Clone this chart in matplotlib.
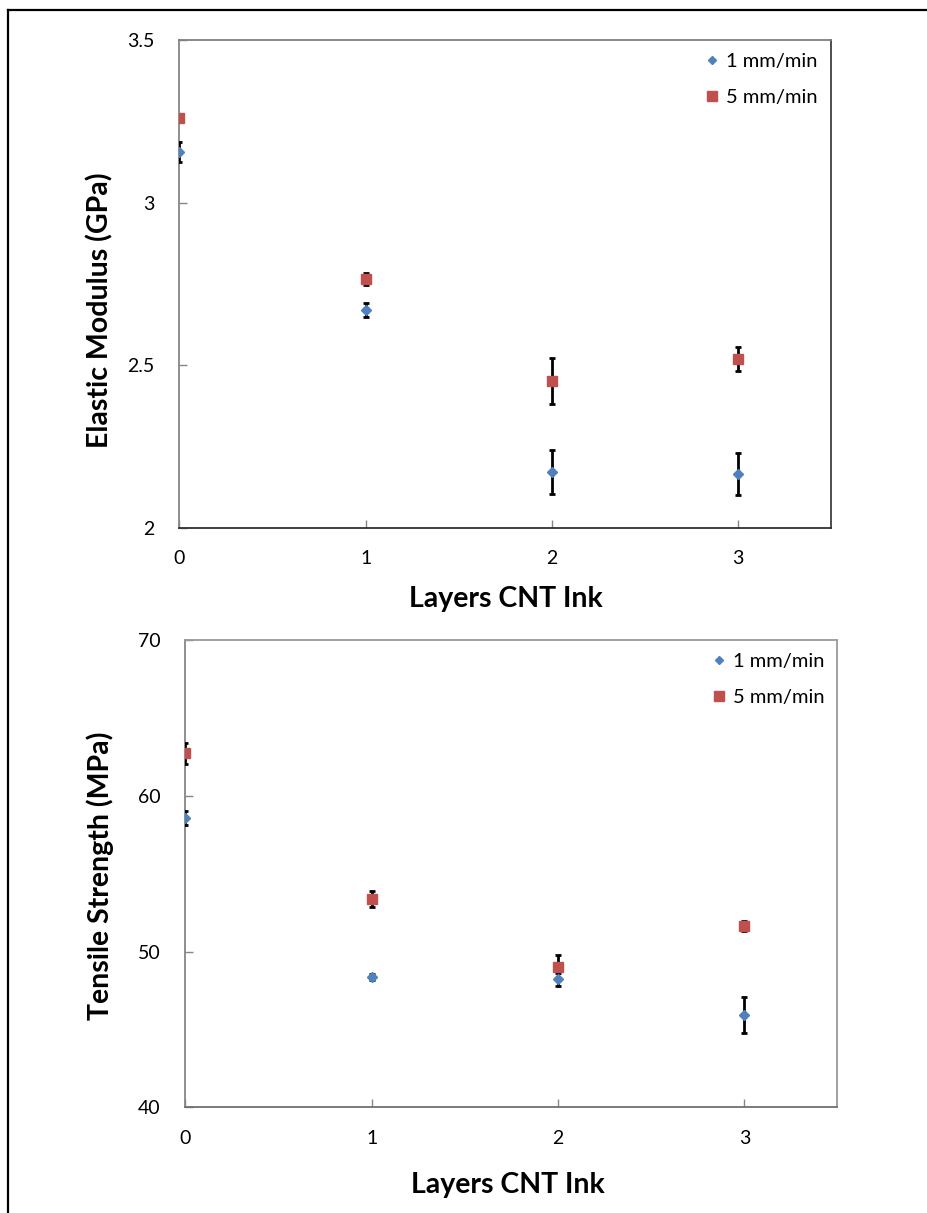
import matplotlib
matplotlib.use("Agg")
import matplotlib.pyplot as plt
from matplotlib.lines import Line2D

plt.rcParams['font.family'] = ['Lato', 'DejaVu Sans']

layers = [0, 1, 2, 3]
series_names = ['1 mm/min', '5 mm/min']

# Elastic modulus (GPa)
modulus_1 = [3.156, 2.670, 2.172, 2.166]
modulus_1_err = [0.031, 0.022, 0.067, 0.064]
modulus_5 = [3.260, 2.765, 2.452, 2.519]
modulus_5_err = [0.008, 0.019, 0.071, 0.037]

# Tensile strength (MPa)
strength_1 = [58.55, 48.38, 48.22, 45.94]
strength_1_err = [0.45, 0.20, 0.41, 1.16]
strength_5 = [62.72, 53.39, 48.99, 51.64]
strength_5_err = [0.69, 0.51, 0.79, 0.35]

BLUE = '#4F81BD'
RED = '#C0504D'

W, H = 928, 1213
fig = plt.figure(figsize=(W / 100, H / 100), dpi=100)


def px_axes(left, top, right, bottom):
    return fig.add_axes([left / W, 1 - bottom / H, (right - left) / W, (bottom - top) / H])


def draw_panel(ax, y1, e1, y5, e5, ylim, yticks, yfmt, spine_cols):
    ax.errorbar(layers, y1, yerr=e1, fmt='D', color=BLUE, ms=5.5, mec=BLUE,
                ecolor='black', elinewidth=2, capsize=2.5, capthick=2,
                label=series_names[0], zorder=3)
    ax.errorbar(layers, y5, yerr=e5, fmt='s', color=RED, ms=7, mec=RED,
                ecolor='black', elinewidth=2, capsize=2.5, capthick=2,
                label=series_names[1], zorder=3)
    ax.set_xlim(0, 3.5)
    ax.set_ylim(*ylim)
    ax.set_xticks(layers)
    ax.set_yticks(yticks)
    ax.set_yticklabels([yfmt(v) for v in yticks])
    ax.tick_params(direction='in', length=6, width=1, color='#868686',
                   labelsize=14, labelcolor='black')
    ax.tick_params(axis='x', pad=16)
    ax.tick_params(axis='y', pad=18)
    for side, col in spine_cols.items():
        ax.spines[side].set_color(col)
        ax.spines[side].set_linewidth(1.3)
        ax.spines[side].set_clip_on(False)
    handles = [
        Line2D([], [], marker='D', ls='none', color=BLUE, ms=4.5),
        Line2D([], [], marker='s', ls='none', color=RED, ms=7),
    ]
    leg = ax.legend(handles, series_names, loc='upper right', frameon=False,
                    fontsize=14.5, handletextpad=0.2, labelspacing=0.95,
                    handlelength=1.0, borderaxespad=0.25,
                    bbox_to_anchor=(1.0, 1.0))
    return leg


ax1 = px_axes(179.5, 40, 831, 528)
draw_panel(ax1, modulus_1, modulus_1_err, modulus_5, modulus_5_err,
           (2, 3.5), [2, 2.5, 3, 3.5], lambda v: f'{v:g}',
           {'left': '#868686', 'bottom': '#303030', 'top': '#808080', 'right': '#404040'})

ax2 = px_axes(185.3, 640, 837.5, 1107.3)
draw_panel(ax2, strength_1, strength_1_err, strength_5, strength_5_err,
           (40, 70), [40, 50, 60, 70], lambda v: f'{v:g}',
           {'left': '#868686', 'bottom': '#707070', 'top': '#9a9a9a', 'right': '#9a9a9a'})

# axis titles
lab = dict(fontsize=20.5, fontweight='bold', color='black')
fig.text(506 / W, 1 - 599 / H, 'Layers CNT Ink', ha='center', va='center', **lab)
fig.text(508 / W, 1 - 1185 / H, 'Layers CNT Ink', ha='center', va='center', **lab)
fig.text(100 / W, 1 - 310 / H, 'Elastic Modulus (GPa)', ha='center', va='center',
         rotation=90, **lab)
fig.text(100 / W, 1 - 876 / H, 'Tensile Strength (MPa)', ha='center', va='center',
         rotation=90, **lab)

# outer border
fig.add_artist(Line2D([8 / W, 8 / W], [0, 1 - 10 / H], color='black', lw=1.6,
                      transform=fig.transFigure))
fig.add_artist(Line2D([8 / W, 1], [1 - 10 / H, 1 - 10 / H], color='black', lw=1.6,
                      transform=fig.transFigure))

fig.savefig('out.png', dpi=100)
